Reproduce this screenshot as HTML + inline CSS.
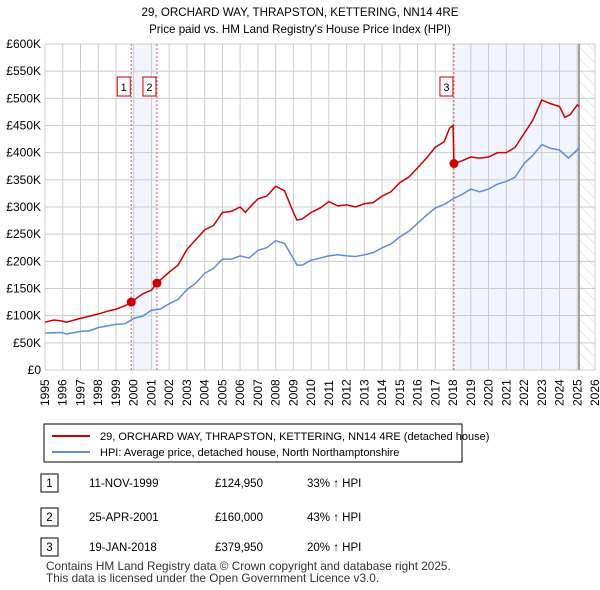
<!DOCTYPE html>
<html><head><meta charset="utf-8">
<style>
body{margin:0;background:#fff;font-family:"Liberation Sans","DejaVu Sans",sans-serif;}
#wrap{position:relative;width:600px;height:590px;overflow:hidden;}
</style></head>
<body>
<div id="wrap">
<svg id="chart" width="600" height="590" style="position:absolute;left:0;top:0">
<defs><pattern id="hatch" width="8" height="8" patternUnits="userSpaceOnUse" patternTransform="rotate(-45)"><line x1="0" y1="0" x2="0" y2="8" stroke="#ccc" stroke-width="0.8"/></pattern></defs>
<text x="300" y="16" text-anchor="middle" font-size="11.6">29, ORCHARD WAY, THRAPSTON, KETTERING, NN14 4RE</text>
<text x="300" y="33" text-anchor="middle" font-size="11.6">Price paid vs. HM Land Registry's House Price Index (HPI)</text>
<g id="plot"></g>
<rect x="44" y="424" width="418" height="38" fill="#fff" stroke="#000"/>
<line x1="52" y1="436" x2="90" y2="436" stroke="#cc0000" stroke-width="2"/>
<text x="100" y="440" font-size="11">29, ORCHARD WAY, THRAPSTON, KETTERING, NN14 4RE (detached house)</text>
<line x1="52" y1="452" x2="90" y2="452" stroke="#5b8ed6" stroke-width="2"/>
<text x="100" y="456" font-size="11">HPI: Average price, detached house, North Northamptonshire</text>
<g id="table"></g>
<text x="46" y="570" font-size="11.8" fill="#333">Contains HM Land Registry data © Crown copyright and database right 2025.</text>
<text x="46" y="582" font-size="11.8" fill="#333">This data is licensed under the Open Government Licence v3.0.</text>
</svg>
</div>
<script>
const years=[1995,1996,1997,1998,1999,2000,2001,2002,2003,2004,2005,2006,2007,2008,2009,2010,2011,2012,2013,2014,2015,2016,2017,2018,2019,2020,2021,2022,2023,2024,2025,2026];
const yTicks=[0,50000,100000,150000,200000,250000,300000,350000,400000,450000,500000,550000,600000];
const yTickLabels=["£0","£50K","£100K","£150K","£200K","£250K","£300K","£350K","£400K","£450K","£500K","£550K","£600K"];
const hpiT=[1995,1996,1996.2,1997,1997.5,1998,1999,1999.5,2000,2000.5,2001,2001.5,2002,2002.5,2003,2003.5,2004,2004.5,2005,2005.5,2006,2006.5,2007,2007.5,2008,2008.5,2009,2009.2,2009.5,2010,2010.5,2011,2011.5,2012,2012.5,2013,2013.5,2014,2014.5,2015,2015.5,2016,2016.5,2017,2017.5,2018,2018.5,2019,2019.5,2020,2020.5,2021,2021.5,2022,2022.5,2023,2023.5,2024,2024.5,2025,2025.1];
const hpiV=[68,69,66,71,72,78,84,85,95,99,110,112,122,130,148,160,178,187,204,204,210,206,220,225,238,233,205,193,193,202,206,210,212,210,209,212,216,225,232,245,255,270,285,298,305,315,323,333,328,333,342,347,355,380,395,415,408,405,390,405,410];
const redT=[1995,1995.5,1996,1996.2,1997,1998,1998.5,1999,1999.5,1999.86,2000.5,2001,2001.3,2002,2002.5,2003,2003.5,2004,2004.5,2005,2005.5,2006,2006.3,2006.5,2007,2007.5,2008,2008.5,2009,2009.2,2009.5,2010,2010.5,2011,2011.5,2012,2012.5,2013,2013.5,2014,2014.5,2015,2015.5,2016,2016.5,2017,2017.5,2017.8,2018.0,2018.05,2018.5,2019,2019.5,2020,2020.5,2021,2021.5,2022,2022.5,2023,2023.5,2024,2024.3,2024.6,2025,2025.1];
const redV=[88,92,90,88,95,103,108,112,118,125,140,147,160,180,193,222,240,258,266,290,292,300,290,298,315,320,338,330,290,276,278,290,298,310,302,304,300,306,308,320,328,345,355,372,390,410,420,445,450,380,385,392,390,392,400,400,410,435,460,497,490,485,465,470,488,485];
const saleT=[1999.86,2001.31,2018.05];
const saleV=[124950,160000,379950];
const saleLabels=["1","2","3"];
const saleDates=["11-NOV-1999","25-APR-2001","19-JAN-2018"];
const salePrices=["£124,950","£160,000","£379,950"];
const saleHpi=["33% ↑ HPI","43% ↑ HPI","20% ↑ HPI"];

const X0=45,X1=595,Y0=370,Y1=44;
const xs=t=>X0+(t-1995)/(2026-1995)*(X1-X0);
const ys=v=>Y0-v/600000*(Y0-Y1);
const NS="http://www.w3.org/2000/svg";
const plot=document.getElementById('plot');
function mk(tag,attrs,parent){const e=document.createElementNS(NS,tag);for(const k in attrs)e.setAttribute(k,attrs[k]);(parent||plot).appendChild(e);return e;}

let r=mk('rect',{x:xs(saleT[0]),y:Y1,width:xs(saleT[1])-xs(saleT[0]),height:Y0-Y1,fill:'#f2f5fd'});


r=mk('rect',{x:xs(saleT[2]),y:Y1,width:xs(2025.1)-xs(saleT[2]),height:Y0-Y1,fill:'#f2f5fd'});


r=mk('rect',{x:xs(2025.1),y:Y1,width:X1-xs(2025.1),height:Y0-Y1,fill:'url(#hatch)'});



years.forEach(y=>{const l=mk('line',{x1:xs(y),x2:xs(y),y1:Y1,y2:Y0,stroke:'#ccc'});


const t=mk('text',{x:0,y:0,transform:`translate(${xs(y)+4},${Y0+36}) rotate(-90)`,'font-size':12});t.textContent=y;

});
yTicks.forEach((v,i)=>{const l=mk('line',{x1:X0,x2:X1,y1:ys(v),y2:ys(v),stroke:'#ccc'});


const t=mk('text',{x:X0-4,y:ys(v)+4,'text-anchor':'end','font-size':12});t.textContent=yTickLabels[i];

});
let l=mk('line',{x1:xs(2025.1),x2:xs(2025.1),y1:Y1,y2:Y0,stroke:'#888','stroke-width':1.5});



saleT.forEach((t,i)=>{const d=mk('line',{x1:xs(t),x2:xs(t),y1:Y1,y2:Y0,stroke:'#e06060','stroke-dasharray':'2,2'});


const b=mk('rect',{x:xs(t)-14,y:77,width:13,height:19,fill:'#fff',stroke:'#cc0000'});


const tx=mk('text',{x:xs(t)-7.5,y:91,'text-anchor':'middle','font-size':11});tx.textContent=saleLabels[i];

});

const hp=mk('polyline',{points:hpiT.map((t,i)=>xs(t)+','+ys(hpiV[i]*1000)).join(' '),fill:'none',stroke:'#5b8ed6','stroke-width':1.5});


const rp=mk('polyline',{points:redT.map((t,i)=>xs(t)+','+ys(redV[i]*1000)).join(' '),fill:'none',stroke:'#cc0000','stroke-width':1.5});


saleT.forEach((t,i)=>{const c=mk('circle',{cx:xs(t),cy:ys(saleV[i]),r:4.5,fill:'#cc0000'});

});

const tb=document.getElementById('table');
const rowY=[483,517,547];
saleT.forEach((t,i)=>{const y=rowY[i];
const b=mk('rect',{x:41,y:y-9,width:17,height:18,fill:'#fff',stroke:'#000'},tb);


const cells=[[saleLabels[i],49.5,'middle'],[saleDates[i],89,'start'],[salePrices[i],215,'start'],[saleHpi[i],307,'start']];
cells.forEach(c=>{const tx=mk('text',{x:c[1],y:y+4,'text-anchor':c[2],'font-size':11.5},tb);tx.textContent=c[0];

});});
</script>
</body></html>
